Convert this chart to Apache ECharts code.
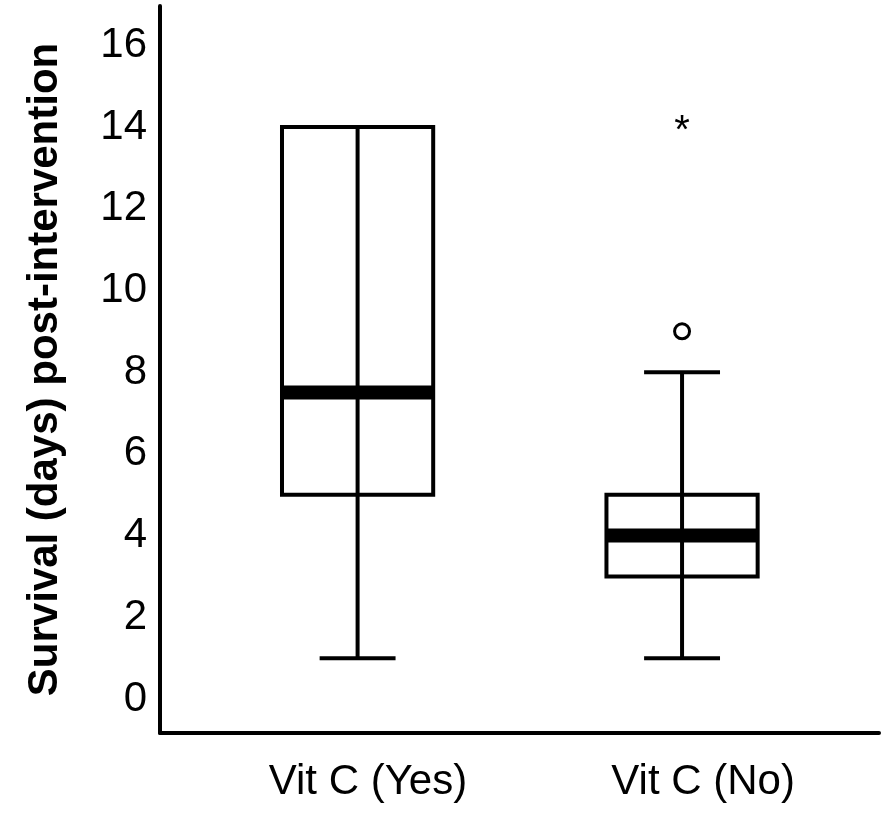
<!DOCTYPE html>
<html>
<head>
<meta charset="utf-8">
<script src="https://cdn.jsdelivr.net/npm/echarts@6/dist/echarts.min.js"></script>
<style>
  html, body { margin: 0; padding: 0; background: #fff; }
  #chart { width: 886px; height: 834px; }
</style>
</head>
<body>
<div id="chart"></div>
<script>
// groups along the x axis
const categories = ['Vit C (Yes)', 'Vit C (No)'];
// five-number summaries per group
const whiskerLow = [1, 1];
const q1 = [5, 3];
const median = [7.5, 4];
const q3 = [14, 5];
const whiskerHigh = [14, 8];
// outliers: [group index, value]
const outliers = [[1, 9]];
const extremes = [[1, 14]];
// y tick labels
const yTicks = [0, 2, 4, 6, 8, 10, 12, 14, 16];

const FONT = '"Liberation Sans", Arial, Helvetica, sans-serif';

const boxData = categories.map((c, i) => [i, whiskerLow[i], q1[i], median[i], q3[i], whiskerHigh[i]]);

const chart = echarts.init(document.getElementById('chart'));

function renderBox(params, api) {
  const x = api.value(0);
  const lo = api.coord([x, api.value(1)]);
  const b1 = api.coord([x, api.value(2)]);
  const md = api.coord([x, api.value(3)]);
  const b3 = api.coord([x, api.value(4)]);
  const hi = api.coord([x, api.value(5)]);
  const unit = api.size([1, 0])[0];
  const hw = unit * 0.233;   // half box width
  const cw = unit * 0.117;   // half cap width
  const cx = lo[0];
  const line = { stroke: '#000', lineWidth: 4, fill: null };
  return {
    type: 'group',
    children: [
      { type: 'line', shape: { x1: cx, y1: lo[1], x2: cx, y2: hi[1] }, style: line },
      { type: 'rect', shape: { x: cx - hw, y: b3[1], width: hw * 2, height: b1[1] - b3[1] },
        style: { stroke: '#000', lineWidth: 4, fill: 'transparent' } },
      { type: 'line', shape: { x1: cx - cw, y1: lo[1], x2: cx + cw, y2: lo[1] }, style: line },
      { type: 'line', shape: { x1: cx - cw, y1: hi[1], x2: cx + cw, y2: hi[1] }, style: line },
      { type: 'rect', shape: { x: cx - hw, y: md[1] - 7, width: hw * 2, height: 14 },
        style: { fill: '#000' } }
    ]
  };
}

function renderStar(params, api) {
  const p = api.coord([api.value(0), api.value(1)]);
  return {
    type: 'text',
    x: p[0],
    y: p[1] + 5,
    style: {
      text: '*',
      font: '40px ' + FONT,
      fill: '#000',
      textAlign: 'center',
      textVerticalAlign: 'middle'
    }
  };
}

const option = {
  backgroundColor: '#fff',
  animation: false,
  grid: { left: 160, right: 7, top: 6, bottom: 101, outerBoundsMode: 'none' },
  xAxis: {
    type: 'value',
    min: -0.609,
    max: 1.607,
    axisLine: { onZero: false, lineStyle: { color: '#000', width: 4 } },
    axisTick: { show: false },
    splitLine: { show: false },
    axisLabel: {
      customValues: [0.032, 1.065],
      formatter: (v) => categories[Math.round(v)],
      fontSize: 42,
      fontFamily: FONT,
      color: '#000',
      margin: 28
    }
  },
  yAxis: {
    type: 'value',
    min: -0.83,
    max: 16.96,
    name: 'Survival (days) post-intervention',
    nameLocation: 'middle',
    nameGap: 94,
    nameTextStyle: { fontSize: 42, fontWeight: 'bold', fontFamily: FONT, color: '#000' },
    axisLine: { show: true, onZero: false, lineStyle: { color: '#000', width: 4 } },
    axisTick: { show: false },
    splitLine: { show: false },
    axisLabel: {
      customValues: yTicks,
      fontSize: 42,
      fontFamily: FONT,
      color: '#000',
      margin: 13
    }
  },
  series: [
    {
      type: 'custom',
      renderItem: renderBox,
      encode: { x: 0, y: [1, 2, 3, 4, 5] },
      data: boxData
    },
    {
      type: 'scatter',
      symbol: 'circle',
      symbolSize: 15,
      itemStyle: { color: '#fff', borderColor: '#000', borderWidth: 3, opacity: 1 },
      data: outliers
    },
    {
      type: 'custom',
      renderItem: renderStar,
      encode: { x: 0, y: 1 },
      data: extremes
    }
  ]
};

chart.setOption(option);
</script>
</body>
</html>
